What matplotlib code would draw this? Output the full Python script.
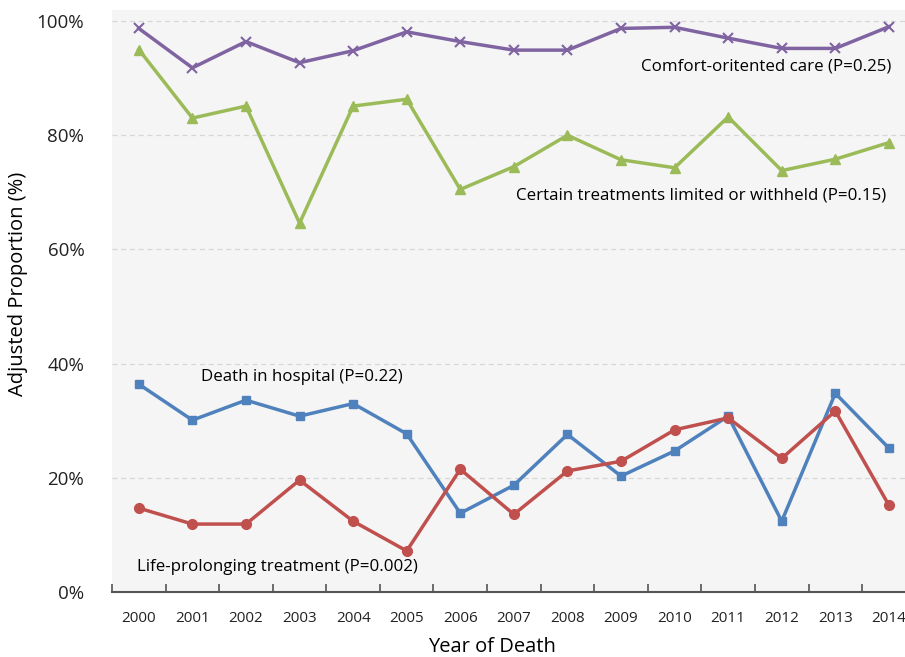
import numpy as np
import matplotlib.pyplot as plt

plt.rcParams['font.family'] = ['Open Sans', 'DejaVu Sans']

years = ['2000', '2001', '2002', '2003', '2004', '2005', '2006', '2007',
         '2008', '2009', '2010', '2011', '2012', '2013', '2014']

comfort_care = [98.7, 91.8, 96.4, 92.7, 94.8, 98.1, 96.4, 94.9, 94.9, 98.7, 98.9, 97.0, 95.2, 95.2, 99.0]
limited_withheld = [95.0, 83.0, 85.1, 64.6, 85.1, 86.3, 70.5, 74.5, 80.0, 75.7, 74.3, 83.2, 73.8, 75.8, 78.7]
death_hospital = [36.4, 30.1, 33.6, 30.8, 33.0, 27.7, 13.8, 18.7, 27.6, 20.3, 24.7, 30.8, 12.4, 34.8, 25.2]
life_prolonging = [14.7, 11.9, 11.9, 19.6, 12.4, 7.2, 21.5, 13.6, 21.2, 22.9, 28.4, 30.5, 23.4, 31.7, 15.2]

x = np.arange(len(years))

fig = plt.figure(figsize=(9.05, 6.57), dpi=100)
ax = fig.add_axes([0.1238, 0.0989, 0.888, 0.8865])
ax.set_facecolor('#F5F5F5')

# series: colour, marker
ax.plot(x, comfort_care, color='#8064A2', lw=2.5, marker='x', ms=7, mew=1.5, zorder=3)
ax.plot(x, limited_withheld, color='#9BBB59', lw=2.5, marker='^', ms=7, zorder=3)
ax.plot(x, death_hospital, color='#4F81BD', lw=2.5, marker='s', ms=6, zorder=3)
ax.plot(x, life_prolonging, color='#C0504D', lw=2.5, marker='o', ms=7, zorder=3)

ax.set_xlim(-0.5, 14.5)
ax.set_ylim(0, 102)

ax.set_yticks([0, 20, 40, 60, 80, 100])
ax.set_yticklabels(['0%', '20%', '40%', '60%', '80%', '100%'], fontsize=13.5, color='#222222')
ax.yaxis.grid(True, linestyle=(0, (4, 3)), color='#D6D6D6', lw=0.9)
ax.set_axisbelow(True)

ax.set_xticks(x)
ax.set_xticklabels(years, fontsize=11, color='#222222')
ax.set_xticks(np.arange(-0.5, 14.6, 1), minor=True)
ax.tick_params(axis='x', which='major', length=0, pad=14)
ax.tick_params(axis='x', which='minor', direction='in', length=6, width=1.2, color='#555555')
ax.tick_params(axis='y', length=0, pad=20)

for s in ['left', 'right', 'top']:
    ax.spines[s].set_visible(False)
ax.spines['bottom'].set_color('#555555')
ax.spines['bottom'].set_linewidth(1.5)

ax.text(14.05, 92.1, 'Comfort-oritented care (P=0.25)', ha='right', va='center', fontsize=12.2)
ax.text(13.95, 69.5, 'Certain treatments limited or withheld (P=0.15)', ha='right', va='center', fontsize=12.2)
ax.text(1.16, 37.7, 'Death in hospital (P=0.22)', ha='left', va='center', fontsize=12.2)
ax.text(-0.04, 4.4, 'Life-prolonging treatment (P=0.002)', ha='left', va='center', fontsize=12.2)

fig.text(18 / 905, 1 - 284 / 657, 'Adjusted Proportion (%)', rotation=90, ha='center', va='center', fontsize=14.5)
fig.text(492 / 905, 1 - 647 / 657, 'Year of Death', ha='center', va='center', fontsize=14.5)

fig.savefig('out.png', dpi=100)
